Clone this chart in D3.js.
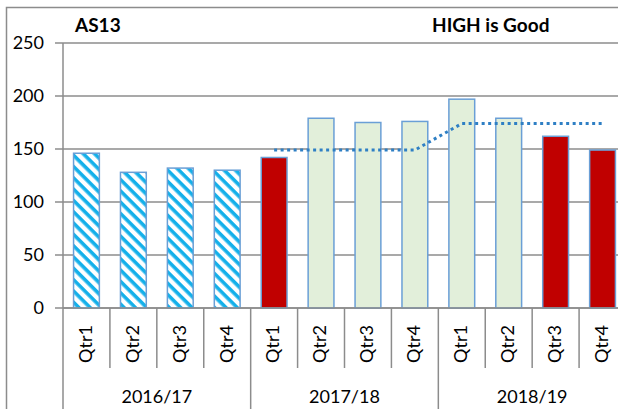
<!DOCTYPE html>
<html>
<head>
<meta charset="utf-8">
<script src="https://cdn.jsdelivr.net/npm/d3@7"></script>
<style>
  body { margin: 0; background: #fff; }
  svg { display: block; font-family: Lato, "Open Sans", sans-serif; }
</style>
</head>
<body>
<div id="chart"></div>
<script>
// Chart data
const years = ["2016/17", "2017/18", "2018/19"];
const quarters = ["Qtr1", "Qtr2", "Qtr3", "Qtr4"];
const values = [146, 128, 132, 130, 142, 179, 175, 176, 197, 179, 162, 149];
const status = ["base", "base", "base", "base", "red", "green", "green", "green", "green", "green", "red", "red"];
const target = [null, null, null, null, 149, 149, 149, 149, 174, 174, 174, 174];
const yTicks = [0, 50, 100, 150, 200, 250];

const W = 618, H = 409;
const plot = {left: 63, right: 626, top: 43, bottom: 308};

let rows = [];
years.forEach((yr, i) => quarters.forEach((q, j) => {
  let k = i * 4 + j;
  rows.push({key: yr + "|" + q, year: yr, qtr: q, value: values[k], status: status[k], target: target[k]});
}));

let svg = d3.select("#chart").append("svg")
  .attr("width", W)
  .attr("height", H);

// Hatch pattern for the baseline year (stripes running down to the right)
let pat = svg.append("defs").append("pattern")
  .attr("id", "hatch")
  .attr("patternUnits", "userSpaceOnUse")
  .attr("width", 8).attr("height", 8)
  .attr("patternTransform", "rotate(45)");
pat.append("rect").attr("width", 8).attr("height", 8).attr("fill", "#fff");
pat.append("rect").attr("width", 8).attr("height", 3.6).attr("fill", "#14b0ea");

// Outer border
svg.append("path")
  .attr("d", "M6.5," + H + "V7.5H" + W)
  .attr("fill", "none")
  .attr("stroke", "#8c8c8c")
  .attr("stroke-width", 1.5);

let x = d3.scaleBand()
  .domain(rows.map(d => d.key))
  .range([plot.left, plot.right])
  .paddingInner(0.45)
  .paddingOuter(0.225);

let y = d3.scaleLinear()
  .domain([0, 250])
  .range([plot.bottom, plot.top]);

// Gridlines
svg.append("g")
  .selectAll("line")
  .data(yTicks)
  .enter()
  .append("line")
    .attr("x1", plot.left - 8)
    .attr("x2", W)
    .attr("y1", d => y(d))
    .attr("y2", d => y(d))
    .attr("stroke", "#8c8c8c")
    .attr("stroke-width", 1.5);

// Y axis
let yAxis = svg.append("g")
  .attr("transform", "translate(" + plot.left + ",0)")
  .call(d3.axisLeft(y).tickValues(yTicks).tickSize(8).tickPadding(11));
yAxis.select(".domain").attr("stroke", "#8c8c8c").attr("stroke-width", 1.5)
  .attr("d", "M0," + plot.top + "V" + plot.bottom);
yAxis.selectAll(".tick line").remove();
yAxis.selectAll("text")
  .attr("font-size", "18px")
  .attr("font-family", "Lato, sans-serif")
  .attr("fill", "#000");

// Bars
let fills = {base: "url(#hatch)", red: "#c00000", green: "#e2efda"};
svg.append("g")
  .selectAll("rect")
  .data(rows)
  .enter()
  .append("rect")
    .attr("x", d => x(d.key))
    .attr("y", d => y(d.value))
    .attr("width", x.bandwidth())
    .attr("height", d => y(0) - y(d.value))
    .attr("fill", d => fills[d.status])
    .attr("stroke", "#6a9fd6")
    .attr("stroke-width", 1.5);

// Target line
let line = d3.line()
  .defined(d => d.target != null)
  .x(d => x(d.key) + x.bandwidth() / 2)
  .y(d => y(d.target));
svg.append("path")
  .datum(rows)
  .attr("d", line)
  .attr("fill", "none")
  .attr("stroke", "#2e7fc4")
  .attr("stroke-width", 3)
  .attr("stroke-dasharray", "3,3.5");

// Category axis (quarters + years)
let step = x.step();
let axisG = svg.append("g").attr("stroke", "#8c8c8c").attr("stroke-width", 1.5);
axisG.append("line")
  .attr("x1", plot.left).attr("x2", W)
  .attr("y1", plot.bottom).attr("y2", plot.bottom);
rows.forEach((d, i) => {
  let x0 = plot.left + i * step;
  axisG.append("line")
    .attr("x1", x0).attr("x2", x0)
    .attr("y1", plot.bottom)
    .attr("y2", i % 4 == 0 ? H : 368);
});

svg.append("g")
  .selectAll("text")
  .data(rows)
  .enter()
  .append("text")
    .attr("transform", d => "translate(" + (x(d.key) + x.bandwidth() / 2 - 1) + ",344)rotate(-90)")
    .attr("text-anchor", "middle")
    .attr("dy", "0.35em")
    .attr("font-size", "18px")
    .attr("fill", "#000")
    .text(d => d.qtr);

svg.append("g")
  .selectAll("text")
  .data(years)
  .enter()
  .append("text")
    .attr("x", (d, i) => plot.left + (i * 4 + 2) * step)
    .attr("y", 403)
    .attr("text-anchor", "middle")
    .attr("font-size", "18px")
    .attr("fill", "#000")
    .text(d => d);

// Titles
svg.append("text")
  .attr("x", 75).attr("y", 32)
  .attr("font-size", "19px")
  .attr("font-weight", "bold")
  .attr("fill", "#000")
  .text("AS13");

svg.append("text")
  .attr("x", 432).attr("y", 32)
  .attr("font-size", "19px")
  .attr("font-weight", "bold")
  .attr("fill", "#000")
  .text("HIGH is Good");
</script>
</body>
</html>
